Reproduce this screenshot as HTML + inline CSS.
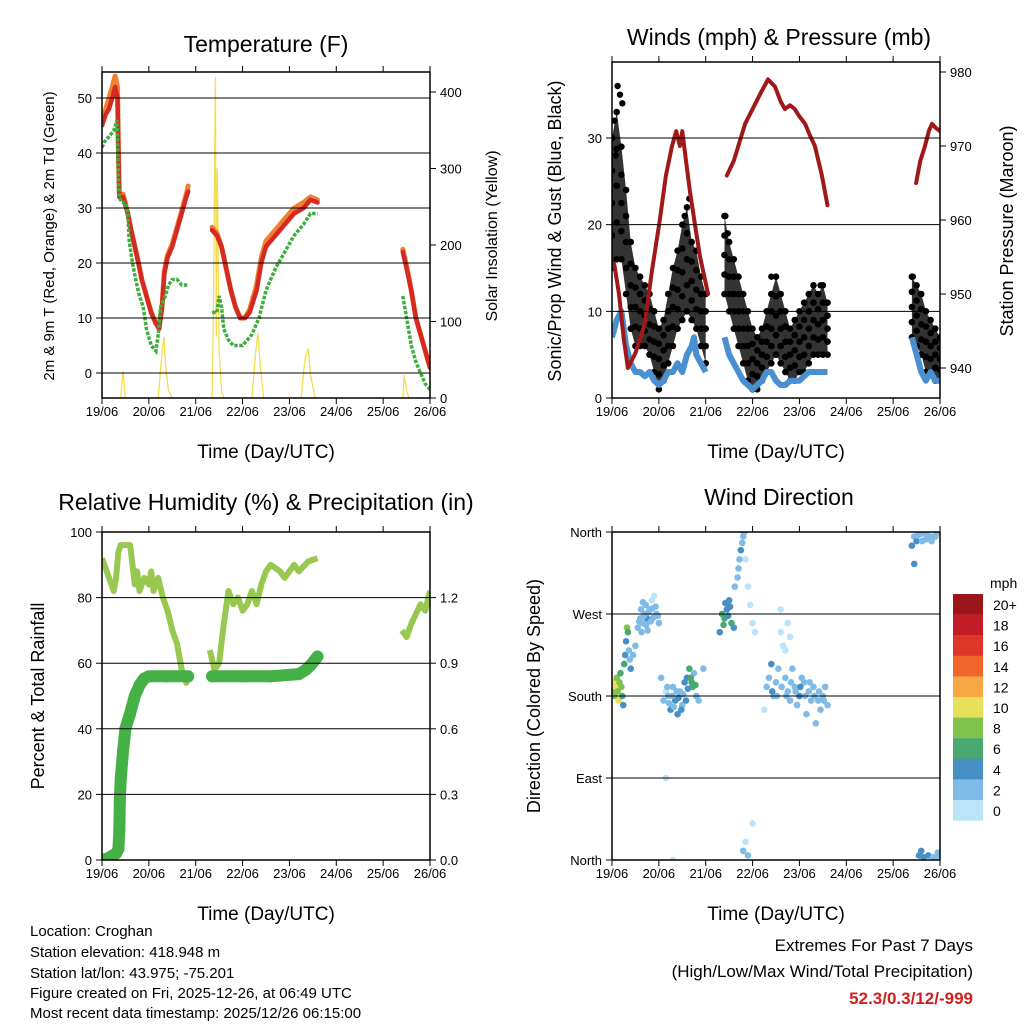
<!DOCTYPE html>
<html><head><meta charset="utf-8"><style>
html,body{margin:0;padding:0;background:#fff;}
svg{display:block;font-family:"Liberation Sans",Arial,sans-serif;}
</style></head><body>
<svg id="s" width="1024" height="1024" viewBox="0 0 1024 1024" xmlns="http://www.w3.org/2000/svg">
<rect width="1024" height="1024" fill="#fff"/>
<g id="g"></g>
<g font-size="15" fill="#000">
<text x="30" y="936">Location: Croghan</text>
<text x="30" y="957">Station elevation: 418.948 m</text>
<text x="30" y="978">Station lat/lon: 43.975; -75.201</text>
<text x="30" y="998">Figure created on Fri, 2025-12-26, at 06:49 UTC</text>
<text x="30" y="1018">Most recent data timestamp: 2025/12/26 06:15:00</text>
</g>
<g text-anchor="end" font-size="17">
<text x="973" y="951">Extremes For Past 7 Days</text>
<text x="973" y="977">(High/Low/Max Wind/Total Precipitation)</text>
<text x="973" y="1004" fill="#d02020" font-weight="bold">52.3/0.3/12/-999</text>
</g>
</svg>
<script>
const dayLabels=["19/06","20/06","21/06","22/06","23/06","24/06","25/06","26/06"];
const tempRed=[[[0,45],[0.08,47],[0.15,48],[0.22,50],[0.28,52],[0.33,50],[0.35,40],[0.37,32],[0.45,32],[0.55,29],[0.62,26],[0.7,23],[0.78,20],[0.85,17],[0.95,14],[1.05,11],[1.15,9],[1.22,8],[1.28,12],[1.33,18],[1.4,21],[1.5,23],[1.6,26],[1.7,29],[1.8,32],[1.84,33]],
[[2.35,26],[2.45,25],[2.55,23],[2.65,19],[2.75,15],[2.85,12],[2.95,10],[3.05,10],[3.15,11],[3.3,15],[3.4,20],[3.5,23],[3.7,25],[3.9,27],[4.1,29],[4.3,30],[4.45,31.5],[4.6,31]],
[[6.42,22],[6.5,19],[6.6,15],[6.7,10],[6.8,7],[6.9,4],[7.0,1]]];
const tempOrange=[[[0,46],[0.08,48],[0.15,50],[0.22,52],[0.28,54],[0.33,52],[0.35,41],[0.37,32.5],[0.45,32.5],[0.55,29],[0.62,26],[0.7,23],[0.78,20],[0.85,17],[0.95,14],[1.05,11],[1.15,9],[1.22,8.5],[1.28,12],[1.33,18.5],[1.4,21.5],[1.5,23.5],[1.6,26.5],[1.7,29.5],[1.8,32.5],[1.84,34]],
[[2.35,26.5],[2.45,25.5],[2.55,23],[2.65,19],[2.75,15],[2.85,12],[2.95,10],[3.05,10],[3.15,11.5],[3.3,16],[3.4,21],[3.5,24],[3.7,26],[3.9,28],[4.1,30],[4.3,31],[4.45,32],[4.6,31.5]],
[[6.42,22.5],[6.5,19.5],[6.6,15],[6.7,10],[6.8,7],[6.9,4],[7.0,1]]];
const dewGreen=[[[0,41],[0.05,42],[0.15,43],[0.25,44],[0.32,46],[0.35,36],[0.37,32],[0.42,31],[0.5,31],[0.55,29],[0.58,24],[0.65,20],[0.72,17],[0.8,14],[0.88,12],[0.95,8],[1.05,5],[1.15,4],[1.2,7],[1.25,12],[1.35,14],[1.42,16],[1.5,17],[1.6,17],[1.7,16],[1.84,16]],
[[2.35,11],[2.45,11],[2.5,14],[2.55,12],[2.6,8],[2.7,6],[2.8,5],[2.9,5],[3.0,5],[3.1,6],[3.2,7],[3.35,10],[3.5,15],[3.7,19],[3.9,22],[4.1,25],[4.3,27],[4.45,29],[4.6,29]],
[[6.42,14],[6.5,10],[6.6,5],[6.7,2],[6.8,0],[6.9,-2],[7.0,-3]]];
const solar=[[[0,0],[0.4,0],[0.45,35],[0.5,0],[1.2,0],[1.28,60],[1.32,80],[1.36,40],[1.42,10],[1.5,0],[2.35,0],[2.38,120],[2.42,420],[2.44,80],[2.46,300],[2.5,60],[2.55,10],[2.6,0],[3.2,0],[3.28,60],[3.33,85],[3.38,40],[3.45,0],[4.25,0],[4.33,50],[4.4,65],[4.45,30],[4.55,0],[4.6,0]],[[6.42,0],[6.45,30],[6.5,10],[6.55,0],[7,0]]];
const gustTimes=[[0,0.1,0.2,0.3,0.4,0.5,0.6,0.7,0.8,0.9,1.0,1.1,1.2,1.3,1.4,1.5,1.6,1.7,1.8,1.9,2.0],
[2.4,2.5,2.6,2.7,2.8,2.9,3.0,3.1,3.2,3.3,3.4,3.5,3.6,3.7,3.8,3.9,4.0,4.1,4.2,4.3,4.4,4.5,4.6],
[6.4,6.5,6.6,6.7,6.8,6.9,7.0]];
const gustHigh=[[30,33,29,24,18,15,14,13,12,10,8,9,12,15,17,20,22,18,17,14,12],
[21,18,16,14,12,10,8,7,8,10,12,14,12,10,8,9,10,11,12,13,12,13,11],
[14,13,12,10,9,8,7]];
const gustLow=[[15,16,16,12,8,6,6,6,5,3,1,2,4,6,8,9,10,9,8,6,4],
[12,10,8,6,4,2,1,1,2,3,4,5,4,3,2,2,3,3,4,5,5,5,5],
[7,6,5,3,3,2,2]];
const gustPeaks=[[0.05,32],[0.12,36],[0.17,35],[0.22,34],[0.08,28],[1.55,21],[1.65,23],[2.42,21],[2.47,19],[3.4,14],[4.45,13],[6.42,14]];
const wind=[[[0,7],[0.1,9],[0.2,10],[0.3,6],[0.4,4],[0.5,3],[0.6,3],[0.7,2.5],[0.8,3],[0.9,2],[1.0,1.5],[1.1,2],[1.2,3],[1.3,3],[1.4,4],[1.5,3],[1.6,5],[1.7,6],[1.75,7],[1.8,5],[1.9,4],[2.0,3]],
[[2.4,7],[2.5,5],[2.6,4],[2.7,3],[2.8,2],[2.9,1.5],[3.0,1],[3.1,1.5],[3.2,2],[3.3,3],[3.4,3],[3.5,2],[3.6,1.5],[3.7,1.5],[3.8,2],[3.9,2],[4.0,2],[4.1,2.5],[4.2,3],[4.3,3],[4.4,3],[4.5,3],[4.6,3]],
[[6.4,7],[6.5,5],[6.6,3],[6.7,2],[6.8,3],[6.9,2],[7.0,2]]];
const pressure=[[[0.05,954],[0.15,950],[0.25,944],[0.34,940],[0.5,942],[0.7,946],[0.85,953],[1.02,960],[1.15,966],[1.28,970],[1.37,972],[1.45,970],[1.5,972],[1.58,968],[1.66,964],[1.78,959],[1.88,955],[2.05,950]],
[[2.45,966],[2.6,968],[2.84,973],[3.0,975],[3.16,977],[3.33,979],[3.48,978],[3.6,976],[3.69,975],[3.8,975.5],[3.9,975],[4.0,974],[4.12,973],[4.22,971.5],[4.33,970],[4.48,966],[4.6,962]],
[[6.49,965],[6.58,968],[6.68,970],[6.76,972],[6.83,973],[6.9,972.5],[7.0,972]]];
const rh=[[[0,92],[0.1,88],[0.2,84],[0.25,82],[0.3,86],[0.35,94],[0.4,96],[0.5,96],[0.6,96],[0.65,90],[0.7,84],[0.75,88],[0.8,82],[0.9,86],[1.0,84],[1.05,88],[1.1,82],[1.2,86],[1.3,80],[1.4,76],[1.5,70],[1.6,66],[1.7,58],[1.8,54],[1.84,56]],
[[2.3,64],[2.4,58],[2.5,60],[2.6,72],[2.7,82],[2.8,78],[2.9,80],[3.0,76],[3.1,78],[3.2,82],[3.3,78],[3.4,84],[3.5,88],[3.6,90],[3.8,88],[3.9,86],[4.0,88],[4.1,90],[4.2,88],[4.4,91],[4.6,92]],
[[6.4,70],[6.5,68],[6.6,72],[6.7,75],[6.8,78],[6.9,76],[7.0,82]]];
const precip=[[[0,0],[0.15,0.01],[0.3,0.03],[0.35,0.05],[0.37,0.13],[0.38,0.27],[0.4,0.37],[0.45,0.5],[0.5,0.6],[0.6,0.67],[0.7,0.75],[0.8,0.8],[0.9,0.83],[1.0,0.84],[1.4,0.84],[1.84,0.84]],
[[2.35,0.84],[3.0,0.84],[3.6,0.84],[4.2,0.85],[4.35,0.87],[4.45,0.89],[4.6,0.93]]];
const dirObs=[[0.02,185,8],[0.04,195,10],[0.06,180,9],[0.08,190,11],[0.1,200,8],[0.12,185,9],[0.14,175,10],[0.16,195,8],[0.18,205,7],[0.2,190,9],[0.22,180,6],[0.24,170,4],[0.26,215,7],[0.28,225,5],[0.3,240,4],[0.32,255,9],[0.34,250,6],[0.36,230,3],[0.38,220,3],[0.4,210,4],[0.45,225,3],[0.5,235,2],[0.55,255,2],[0.6,265,3],[0.62,275,2],[0.65,260,3],[0.7,270,2],[0.72,280,3],[0.75,265,4],[0.8,275,2],[0.85,285,1],[0.9,290,1],[0.95,270,3],[1.0,260,2],[1.05,200,2],[1.1,175,3],[1.15,185,1],[1.15,90,1],[1.2,180,3],[1.25,165,4],[1.3,190,2],[1.35,175,4],[1.4,160,4],[1.45,185,3],[1.5,170,2],[1.55,195,5],[1.6,200,4],[1.65,210,7],[1.7,195,6],[1.72,190,7],[1.75,205,2],[1.8,180,3],[1.85,175,2],[1.95,210,2],[1.3,0,1],
[0.58,262,3],[0.68,268,3],[0.78,272,3],[0.88,266,2],[0.63,250,2],[0.73,258,3],[0.83,262,3],[0.93,278,2],[0.98,268,3],[0.66,283,2],[0.86,276,3],[0.76,252,2],
[1.22,172,3],[1.32,168,3],[1.42,178,4],[1.52,182,3],[1.62,188,5],[1.68,200,6],[1.78,192,7],[1.48,165,4],[1.38,185,3],[1.58,175,4],[1.18,190,2],[1.28,180,3],
[2.3,250,5],[2.35,270,6],[2.4,265,7],[2.45,275,5],[2.5,285,4],[2.55,260,6],[2.6,255,5],[2.62,300,3],[2.7,320,2],[2.75,340,4],[2.8,355,2],[2.85,330,1],[2.9,300,1],[2.95,280,1],[3.0,260,1],[3.05,250,1],[2.8,10,3],[2.9,5,2],[2.85,20,1],[3.0,40,1],
[2.38,258,6],[2.48,268,5],[2.52,278,4],[2.42,282,4],[2.72,330,3],[2.78,348,3],[2.68,310,2],[2.82,360,2],
[3.3,190,2],[3.35,200,3],[3.4,215,4],[3.45,180,3],[3.5,195,2],[3.55,210,3],[3.6,250,1],[3.65,235,1],[3.7,200,2],[3.75,185,3],[3.8,175,2],[3.85,210,3],[3.9,190,2],[3.95,170,2],[4.0,180,4],[4.05,200,3],[4.1,195,2],[4.15,160,3],[4.2,185,3],[4.25,175,2],[4.3,190,3],[4.35,150,3],[4.4,175,2],[4.45,165,2],[4.5,180,2],[4.55,190,3],[4.6,170,2],[3.25,165,1],[3.6,275,1],[3.75,260,1],
[3.42,185,4],[3.52,180,3],[3.62,190,2],[3.72,180,3],[3.82,195,3],[3.92,185,3],[4.02,190,4],[4.12,180,3],[4.22,195,3],[4.32,180,2],[4.42,185,3],[4.52,175,2],[3.7,230,1],[3.8,245,1],
[6.4,345,4],[6.45,355,3],[6.5,350,4],[6.55,5,4],[6.6,358,3],[6.7,352,3],[6.8,355,2],[6.9,355,3],[6.75,5,4],[6.85,3,3],[6.95,8,2],[7.0,5,3],[6.6,10,4],[6.45,325,4],
[6.52,356,3],[6.62,350,3],[6.72,357,2],[6.82,350,2],[6.92,358,2],[6.65,3,4],[6.9,2,3],[6.98,6,2]];
const cbLabels=["20+","18","16","14","12","10","8","6","4","2","0"];
const cbColors=["#9a161b","#c21d25","#de3628","#f0652a","#f7a845","#e8e05b","#7fc24c","#48a870","#4690c6","#7fbbe6","#bce4f8"];

const NS="http://www.w3.org/2000/svg";
const G=document.getElementById('g');
function mk(tag,attrs,parent){const e=document.createElementNS(NS,tag);for(const k in attrs)e.setAttribute(k,attrs[k]);(parent||G).appendChild(e);return e;}
function txt(x,y,s,size,anchor,rot){const t=mk('text',{x:x,y:y,'font-size':size,'text-anchor':anchor||'middle'});if(rot)t.setAttribute('transform','rotate(-90 '+x+' '+y+')');t.textContent=s;return t;}
function panel(x0,y0,x1,y1){return {x0,y0,x1,y1,xs:t=>x0+t*(x1-x0)/7};}
function lin(v0,p0,v1,p1){return v=>p0+(v-v0)*(p1-p0)/(v1-v0);}
function pathOf(seg,xs,ys){return seg.map((p,i)=>(i?'L':'M')+xs(p[0]).toFixed(1)+' '+ys(p[1]).toFixed(1)).join(' ');}
function frame(P,name){
  const r=mk('rect',{x:P.x0,y:P.y0,width:P.x1-P.x0,height:P.y1-P.y0,fill:'none',stroke:'#000','stroke-width':1.5});
  
  
  dayLabels.forEach((d,i)=>{const x=P.xs(i);
    mk('line',{x1:x,y1:P.y1,x2:x,y2:P.y1+6,stroke:'#000'});
    mk('line',{x1:x,y1:P.y0,x2:x,y2:P.y0-6,stroke:'#000'});
    const t=txt(x,P.y1+18,d,13);
    
    
  });
  const xl=txt((P.x0+P.x1)/2,P.y1+60,'Time (Day/UTC)',19);
  
  
}
function grid(P,ys,vals){vals.forEach(v=>{mk('line',{x1:P.x0,x2:P.x1,y1:ys(v),y2:ys(v),stroke:'#000','stroke-width':1});});}
function leftTicks(P,ys,vals,labels,name){vals.forEach((v,i)=>{const y=ys(v);mk('line',{x1:P.x0,x2:P.x0-6,y1:y,y2:y,stroke:'#000'});const t=txt(P.x0-10,y+5,labels[i],13,'end');});}
function rightTicks(P,ys,vals,labels,name){vals.forEach((v,i)=>{const y=ys(v);mk('line',{x1:P.x1,x2:P.x1+6,y1:y,y2:y,stroke:'#000'});const t=txt(P.x1+10,y+5,labels[i],13,'start');});}
function clip(P,id){const c=mk('clipPath',{id:id});mk('rect',{x:P.x0,y:P.y0,width:P.x1-P.x0,height:P.y1-P.y0},c);return 'url(#'+id+')';}

// ---------- Temperature panel
{const P=panel(102,72,430,398);
 const ys=lin(0,373,50,98), yr=lin(0,398,400,92);
 const gp=mk('g',{'clip-path':clip(P,'c1')});
 grid(P,ys,[0,10,20,30,40,50]);
 solar.forEach(seg=>{const p=mk('path',{d:pathOf(seg,P.xs,yr),fill:'none',stroke:'#f5dc50','stroke-width':1.3},gp);});
 tempOrange.forEach(seg=>{const p=mk('path',{d:pathOf(seg,P.xs,ys),fill:'none',stroke:'#f08030','stroke-width':5,'stroke-linejoin':'round','stroke-linecap':'round'},gp);});
 tempRed.forEach(seg=>{const p=mk('path',{d:pathOf(seg,P.xs,ys),fill:'none',stroke:'#d42a22','stroke-width':4.5,'stroke-linejoin':'round','stroke-linecap':'round'},gp);});
 dewGreen.forEach(seg=>{const p=mk('path',{d:pathOf(seg,P.xs,ys),fill:'none',stroke:'#3fae3f','stroke-width':3.5,'stroke-dasharray':'3.5 1.5'},gp);});
 frame(P,'temperature');
 leftTicks(P,ys,[0,10,20,30,40,50],['0','10','20','30','40','50'],'temperature');
 rightTicks(P,yr,[0,100,200,300,400],['0','100','200','300','400'],'solar');
 const t=txt(266,52,'Temperature (F)',23);
 const l=txt(54,236,'2m & 9m T (Red, Orange) & 2m Td (Green)',15,'middle',true);
 const r=txt(497,236,'Solar Insolation (Yellow)',16,'middle',true);
}
// ---------- Winds panel
{const P=panel(612,62,940,398);
 const ys=lin(0,398,30,138), yr=lin(940,368,980,72);
 const gp=mk('g',{'clip-path':clip(P,'c2')});
 grid(P,ys,[10,20,30]);
 gustTimes.forEach((ts,s)=>{
   let d='';
   ts.forEach((t,i)=>{d+=(i?'L':'M')+P.xs(t).toFixed(1)+' '+ys(gustHigh[s][i]).toFixed(1);});
   for(let i=ts.length-1;i>=0;i--){d+='L'+P.xs(ts[i]).toFixed(1)+' '+ys(gustLow[s][i]).toFixed(1);}
   const p=mk('path',{d:d+'Z',fill:'#000','fill-opacity':0.8,stroke:'none'},gp);
   
   
   ts.forEach((t,i)=>{
     const h=gustHigh[s][i], lo=gustLow[s][i];
     [h,lo,(h+lo)/2,(3*h+lo)/4,(h+3*lo)/4].forEach(v=>{const c=mk('circle',{cx:P.xs(t),cy:ys(v),r:3.3,fill:'#000'},gp);
       
       });
   });
 });
 gustPeaks.forEach(q=>{const c=mk('circle',{cx:P.xs(q[0]),cy:ys(q[1]),r:3.2,fill:'#000'},gp);});
 wind.forEach(seg=>{const p=mk('path',{d:pathOf(seg,P.xs,ys),fill:'none',stroke:'#4a90d0','stroke-width':6,'stroke-linejoin':'round'},gp);});
 pressure.forEach(seg=>{const p=mk('path',{d:pathOf(seg,P.xs,yr),fill:'none',stroke:'#a01818','stroke-width':4,'stroke-linejoin':'round','stroke-linecap':'round'},gp);});
 frame(P,'winds');
 leftTicks(P,ys,[0,10,20,30],['0','10','20','30'],'winds');
 rightTicks(P,yr,[940,950,960,970,980],['940','950','960','970','980'],'pressure');
 const t=txt(779,45,'Winds (mph) & Pressure (mb)',23);
 const l=txt(561,231,'Sonic/Prop Wind & Gust (Blue, Black)',18,'middle',true);
 const r=txt(1013,231,'Station Pressure (Maroon)',18,'middle',true);
}
// ---------- RH panel
{const P=panel(102,532,430,860);
 const ys=lin(0,860,100,532), yr=lin(0,860,1.5,532);
 const gp=mk('g',{'clip-path':clip(P,'c3')});
 grid(P,ys,[20,40,60,80]);
 rh.forEach(seg=>{const p=mk('path',{d:pathOf(seg,P.xs,ys),fill:'none',stroke:'#98c850','stroke-width':6,'stroke-linejoin':'round'},gp);});
 precip.forEach(seg=>{const p=mk('path',{d:pathOf(seg,P.xs,yr),fill:'none',stroke:'#45b045','stroke-width':12,'stroke-linejoin':'round','stroke-linecap':'round'},gp);
   seg.forEach(q=>{const c=mk('circle',{cx:P.xs(q[0]),cy:yr(q[1]),r:6,fill:'#45b045'},gp);});});
 frame(P,'humidity');
 leftTicks(P,ys,[0,20,40,60,80,100],['0','20','40','60','80','100'],'humidity');
 rightTicks(P,yr,[0,0.3,0.6,0.9,1.2],['0.0','0.3','0.6','0.9','1.2'],'precip');
 const t=txt(266,510,'Relative Humidity (%) & Precipitation (in)',23);
 const l=txt(44,696,'Percent & Total Rainfall',18,'middle',true);
}
// ---------- Wind direction panel
{const P=panel(612,532,940,860);
 const ys=lin(0,860,360,532);
 const gp=mk('g',{'clip-path':clip(P,'c4')});
 grid(P,ys,[90,180,270]);
 const colorFor=s=>cbColors[10-Math.min(10,Math.floor(s/2))];
 dirObs.forEach(o=>{const c=mk('circle',{cx:P.xs(o[0]),cy:ys(o[1]),r:3.3,fill:colorFor(o[2])},gp);});
 frame(P,'direction');
 leftTicks(P,ys,[0,90,180,270,360],['North','East','South','West','North'],'direction');
 const t=txt(779,505,'Wind Direction',23);
 const l=txt(540,696,'Direction (Colored By Speed)',18,'middle',true);
 const u=txt(990,588,'mph',14,'start');
 cbColors.forEach((c,i)=>{const y=594+i*20.6;
   const r=mk('rect',{x:953,y:y,width:30,height:20.8,fill:c});
   
   
   const tl=txt(993,y+16,cbLabels[i],14,'start');
   
   
 });
}
</script>
</body></html>
